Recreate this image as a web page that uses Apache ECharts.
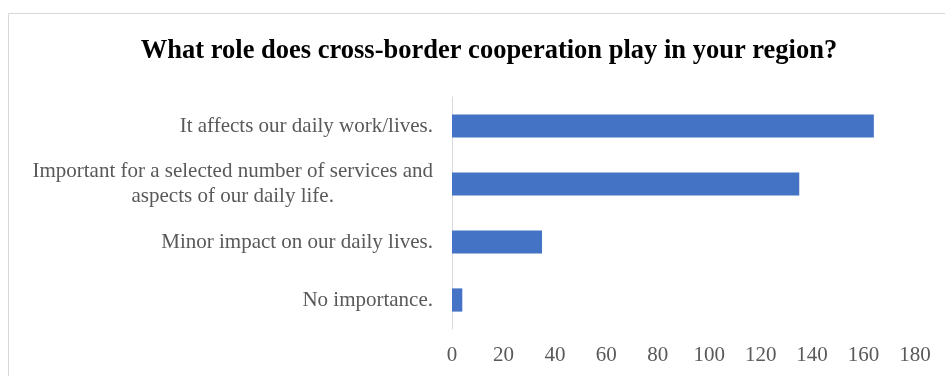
<!DOCTYPE html>
<html>
<head>
<meta charset="utf-8">
<script src="https://cdn.jsdelivr.net/npm/echarts@6/dist/echarts.min.js"></script>
<style>
  html, body { margin: 0; padding: 0; background: #ffffff; }
  #chart { width: 945px; height: 376px; }
</style>
</head>
<body>
<div id="chart"></div>
<script>
// Survey answers, listed top to bottom
const categories = [
  'It affects our daily work/lives.',
  'Important for a selected number of services and\naspects of our daily life.',
  'Minor impact on our daily lives.',
  'No importance.'
];
const responses = [164, 135, 35, 4];
const xTicks = { min: 0, max: 180, interval: 20 };

const serif = '"Liberation Serif", "Times New Roman", serif';

const chart = echarts.init(document.getElementById('chart'));
chart.setOption({
  animation: false,
  backgroundColor: '#ffffff',
  graphic: [{
    type: 'rect',
    shape: { x: 8.5, y: 13.5, width: 1000, height: 400 },
    style: { fill: 'none', stroke: '#d9d9d9', lineWidth: 1 },
    silent: true
  }],
  title: {
    text: 'What role does cross-border cooperation play in your region?',
    left: 484,
    textAlign: 'center',
    top: 33,
    textStyle: { fontFamily: serif, fontWeight: 'bold', fontSize: 26.5, color: '#000000' }
  },
  grid: { left: 452, right: 30, top: 97, bottom: 47, containLabel: false },
  xAxis: {
    type: 'value',
    min: xTicks.min, max: xTicks.max, interval: xTicks.interval,
    axisLine: { show: false },
    axisTick: { show: false },
    splitLine: { show: false },
    axisLabel: { margin: 16, fontFamily: serif, fontSize: 21, color: '#595959' }
  },
  yAxis: {
    type: 'category',
    inverse: true,
    data: categories,
    axisLine: { show: true, lineStyle: { color: '#d9d9d9', width: 1 } },
    axisTick: { show: false },
    axisLabel: {
      margin: 19,
      fontFamily: serif,
      fontSize: 21,
      color: '#595959',
      lineHeight: 25,
      formatter: function (v) {
        return v.split('\n').map(function (s) { return '{c|' + s + '}'; }).join('\n');
      },
      rich: { c: { align: 'center', fontFamily: serif, fontSize: 21, color: '#595959', lineHeight: 25 } }
    }
  },
  series: [{
    type: 'bar',
    data: responses,
    barCategoryGap: '60%',
    itemStyle: { color: '#4472C4' }
  }]
});
</script>
</body>
</html>
